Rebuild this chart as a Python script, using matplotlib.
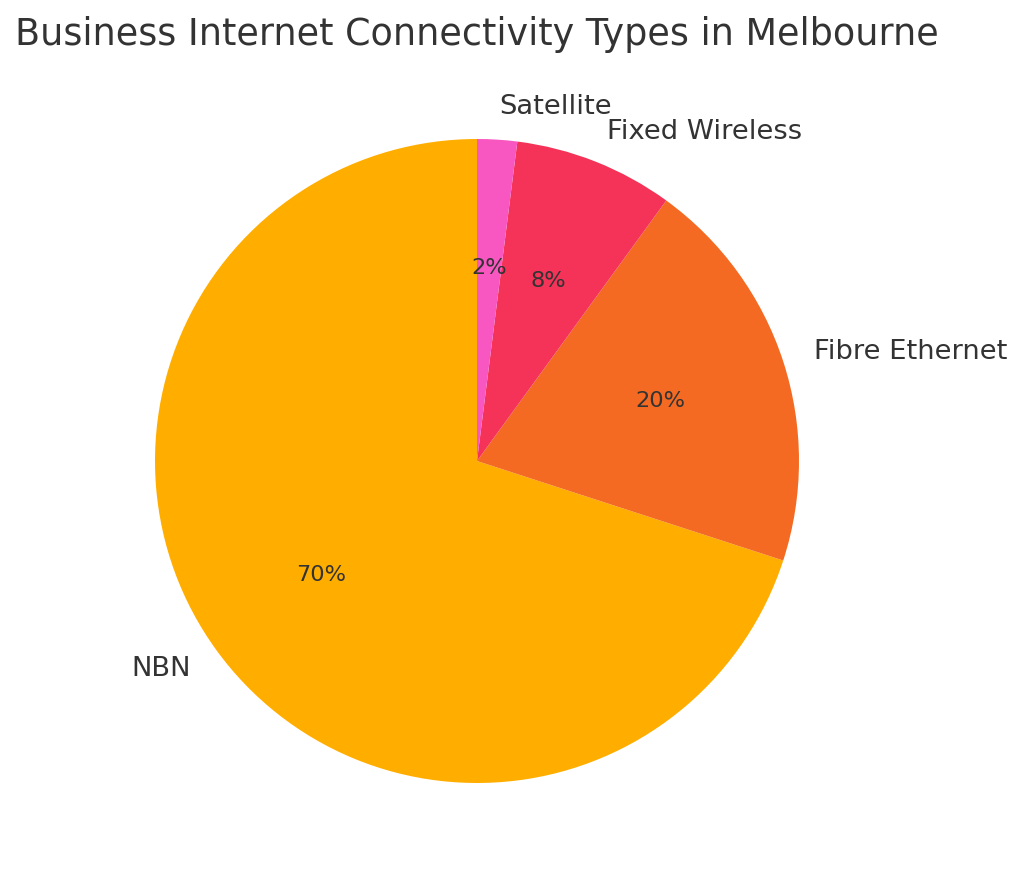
import matplotlib
matplotlib.use("Agg")
import matplotlib.pyplot as plt

labels = ["NBN", "Fibre Ethernet", "Fixed Wireless", "Satellite"]
shares = [70, 20, 8, 2]
colors = ["#FFAE00", "#F46A22", "#F53257", "#F857C1"]
title = "Business Internet Connectivity Types in Melbourne"

W, H = 1024, 881
fig = plt.figure(figsize=(W / 100, H / 100), dpi=100)
ax = fig.add_axes([0, 0, 1, 1])
cx, cy, R = 477, 881 - 461, 322
ax.pie(shares, labels=labels, colors=colors, startangle=90, autopct="%1.0f%%",
       textprops={"color": "#333333", "fontsize": 19.7})
for t in ax.texts:
    if t.get_text().endswith("%"):
        t.set_fontsize(16.2)
ax.set_xlim(-cx / R, (W - cx) / R)
ax.set_ylim(-cy / R, (H - cy) / R)
ax.set_aspect("auto")
ax.axis("off")
fig.text(cx / W, 1 - 45 / H, title, ha="center", va="baseline", fontsize=26.3, color="#333333")
fig.savefig("out.png", dpi=100)
